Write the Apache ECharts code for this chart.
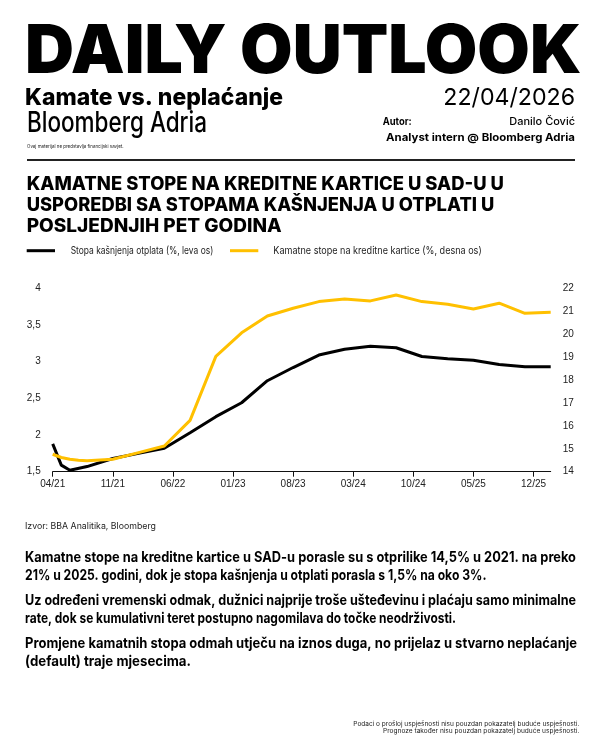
<!DOCTYPE html>
<html><head><meta charset="utf-8">
<script src="https://cdn.jsdelivr.net/npm/echarts@6/dist/echarts.min.js"></script>
<style>html,body{margin:0;padding:0;background:#fff}#c{width:600px;height:750px}</style>
</head><body><div id="c"></div>
<script>
// ---- DATA ----
const months = ['04/21','05/21','06/21','07/21','08/21','09/21','10/21','11/21','12/21',
  '01/22','02/22','03/22','04/22','05/22','06/22','07/22','08/22','09/22','10/22','11/22','12/22',
  '01/23','02/23','03/23','04/23','05/23','06/23','07/23','08/23','09/23','10/23','11/23','12/23',
  '01/24','02/24','03/24','04/24','05/24','06/24','07/24','08/24','09/24','10/24','11/24','12/24',
  '01/25','02/25','03/25','04/25','05/25','06/25','07/25','08/25','09/25','10/25','11/25','12/25',
  '01/26','02/26'];
const delinqDates = ['04/21','05/21','06/21','08/21','11/21','02/22','05/22','08/22','11/22','02/23','05/23','08/23','11/23','02/24','05/24','08/24','11/24','02/25','05/25','08/25','11/25','02/26'];
const delinqValues = [1.88,1.59,1.52,1.57,1.68,1.75,1.82,2.03,2.25,2.44,2.74,2.92,3.09,3.17,3.21,3.19,3.07,3.04,3.02,2.96,2.93,2.93];
const rateDates = ['04/21','05/21','06/21','07/21','08/21','11/21','02/22','05/22','08/22','11/22','02/23','05/23','08/23','11/23','02/24','05/24','08/24','11/24','02/25','05/25','08/25','11/25','02/26'];
const rateValues = [14.76,14.62,14.54,14.5,14.48,14.54,14.83,15.12,16.24,19.03,20.06,20.79,21.13,21.42,21.53,21.45,21.71,21.42,21.3,21.1,21.35,20.91,20.95];
const seriesNames = ['Stopa kašnjenja otplata (%, leva os)', 'Kamatne stope na kreditne kartice (%, desna os)'];
const labelEvery = 7;

// ---- TEXT HELPERS ----
const cv = document.createElement('canvas').getContext('2d');
function T(text, x, base, size, weight, w, align, color, family) {
  const font = weight + ' ' + size + 'px ' + (family || 'Inter');
  cv.font = font;
  const mw = cv.measureText(text).width;
  return {type: 'text', x: x, y: base - 0.265 * size, scaleX: w ? w / mw : 1, z: 10, silent: true,
    style: {text: text, font: font, fill: color || '#000', textAlign: align || 'left', textVerticalAlign: 'middle',
      align: align || 'left', verticalAlign: 'middle'}};
}

const graphics = [
  T('DAILY OUTLOOK', 25, 71, 67, 900, 556.5),
  T('Kamate vs. neplaćanje', 25, 104.3, 23.5, 800, 258),
  T('22/04/2026', 575, 104.3, 23.5, 400, 131.7, 'right'),
  T('Bloomberg Adria', 27, 131, 28, 500, 180),
  T('Ovaj materijal ne predstavlja financijski savjet.', 27, 147.5, 5, 400, 96.5, 'left', '#222'),
  T('Autor:', 382.7, 124.5, 10.5, 700, 29),
  T('Danilo Čović', 575, 124.5, 10.5, 500, 65.7, 'right'),
  T('Analyst intern @ Bloomberg Adria', 575, 140.3, 10.5, 700, 189, 'right'),
  {type: 'line', shape: {x1: 27, y1: 160, x2: 575, y2: 160}, style: {stroke: '#222', lineWidth: 2}, silent: true},
  T('KAMATNE STOPE NA KREDITNE KARTICE U SAD-U U', 26.7, 189.5, 18.5, 800, 477.3),
  T('USPOREDBI SA STOPAMA KAŠNJENJA U OTPLATI U', 26.7, 210.5, 18.5, 800, 467.6),
  T('POSLJEDNJIH PET GODINA', 26.7, 231.3, 18.5, 800, 255),
  {type: 'line', shape: {x1: 26.7, y1: 250.7, x2: 55, y2: 250.7}, style: {stroke: '#000', lineWidth: 3}, silent: true},
  T(seriesNames[0], 70.7, 254, 10.5, 400, 142.6, 'left', '#222'),
  {type: 'line', shape: {x1: 230, y1: 250.7, x2: 258.3, y2: 250.7}, style: {stroke: '#FFC000', lineWidth: 3}, silent: true},
  T(seriesNames[1], 273.3, 254, 10.5, 400, 208.4, 'left', '#222'),
  T('Izvor: BBA Analitika, Bloomberg', 25, 528.5, 9, 400, 131, 'left', '#222'),
  T('Kamatne stope na kreditne kartice u SAD-u porasle su s otprilike 14,5% u 2021. na preko', 25, 561, 14.5, 700, 551),
  T('21% u 2025. godini, dok je stopa kašnjenja u otplati porasla s 1,5% na oko 3%.', 25, 579, 14.5, 700, 461.5),
  T('Uz određeni vremenski odmak, dužnici najprije troše ušteđevinu i plaćaju samo minimalne', 25, 604.5, 14.5, 700, 551),
  T('rate, dok se kumulativni teret postupno nagomilava do točke neodrživosti.', 25, 622.5, 14.5, 700, 431),
  T('Promjene kamatnih stopa odmah utječu na iznos duga, no prijelaz u stvarno neplaćanje', 25, 647.5, 14.5, 700, 552),
  T('(default) traje mjesecima.', 25, 665.5, 14.5, 700, 166),
  T('Podaci o prošloj uspješnosti nisu pouzdan pokazatelj buduće uspješnosti.', 579.3, 725.5, 6.5, 400, 226, 'right', '#222'),
  T('Prognoze također nisu pouzdan pokazatelj buduće uspješnosti.', 579.3, 733, 6.5, 400, 196.3, 'right', '#222')
];

const chart = echarts.init(document.getElementById('c'), null, {renderer: 'canvas'});
const axisLabelStyle = {color: '#222', fontSize: 10, fontFamily: 'Liberation Sans'};
const showEvery = (idx) => idx % labelEvery === 0;
chart.setOption({
  animation: false,
  backgroundColor: '#fff',
  grid: {left: 52.7, right: 49.3, top: 288.3, bottom: 278.3},
  xAxis: {
    type: 'category', data: months, boundaryGap: false,
    axisLine: {lineStyle: {color: '#111', width: 1}},
    axisTick: {interval: showEvery, length: 5, lineStyle: {color: '#111'}},
    axisLabel: Object.assign({interval: showEvery, margin: 8, hideOverlap: false}, axisLabelStyle),
    splitLine: {show: false}
  },
  yAxis: [
    {type: 'value', min: 1.5, max: 4, interval: 0.5, position: 'left',
      axisLine: {show: false}, axisTick: {show: false}, splitLine: {show: false},
      axisLabel: Object.assign({margin: 12, formatter: v => String(v).replace('.', ',')}, axisLabelStyle)},
    {type: 'value', min: 14, max: 22, interval: 1, position: 'right',
      axisLine: {show: false}, axisTick: {show: false}, splitLine: {show: false},
      axisLabel: Object.assign({margin: 12}, axisLabelStyle)}
  ],
  series: [
    {name: seriesNames[0], type: 'line', yAxisIndex: 0, showSymbol: false, symbol: 'none',
      data: delinqDates.map((d, i) => [d, delinqValues[i]]),
      lineStyle: {color: '#000', width: 3}, itemStyle: {color: '#000'}, z: 2},
    {name: seriesNames[1], type: 'line', yAxisIndex: 1, showSymbol: false, symbol: 'none',
      data: rateDates.map((d, i) => [d, rateValues[i]]),
      lineStyle: {color: '#FFC000', width: 3}, itemStyle: {color: '#FFC000'}, z: 3}
  ],
  graphic: graphics
});
</script>
</body></html>
